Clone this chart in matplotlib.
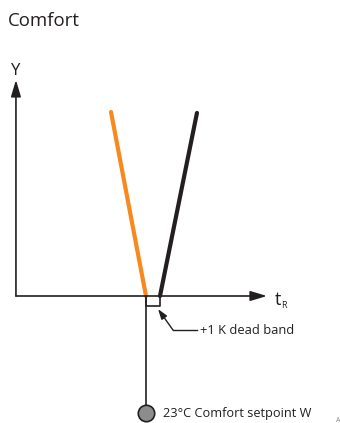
import matplotlib
matplotlib.use("Agg")
import matplotlib.pyplot as plt

# Schema: t in K relative to setpoint, Y in % (0..100)
heating_t = [-2.5, 0.0]
heating_y = [100, 0]
cooling_t = [1.0, 3.64]
cooling_y = [0, 99.5]
dead_band = [0.0, 1.0]
setpoint_label = "23°C Comfort setpoint W"
dead_band_label = "+1 K dead band"

INK = "#231f20"
ORANGE = "#f7891f"
plt.rcParams['font.family'] = ['Open Sans', 'DejaVu Sans']

# pixel -> data: 1 K = 14 px, 1 % = 1.84 px, origin at (146, 296)
fig = plt.figure(figsize=(3.4, 4.23), dpi=100)
ax = fig.add_axes([0, 0, 1, 1])
ax.set_xlim(-146 / 14, (340 - 146) / 14)
ax.set_ylim((296 - 423) / 1.84, 296 / 1.84)
ax.axis('off')

# achsen
ax.annotate('', xy=(8.64, 0), xytext=(-9.29, 0),
            arrowprops=dict(arrowstyle='-|>,head_length=1.0,head_width=0.3', color=INK, lw=1.2, shrinkA=0, shrinkB=0))
ax.annotate('', xy=(-9.29, 117.4), xytext=(-9.29, 0),
            arrowprops=dict(arrowstyle='-|>,head_length=1.0,head_width=0.3', color=INK, lw=1.2, shrinkA=0, shrinkB=0))
ax.text(-9.29, 120.1, 'Y', ha='center', va='baseline', fontsize=12, color=INK)
ax.text(9.21, -4.9, 't', ha='left', va='baseline', fontsize=13, color=INK)
ax.text(9.64, -6.5, 'R', ha='left', va='baseline', fontsize=6.5, color=INK)

# kennlinien
ax.plot(heating_t, heating_y, color=ORANGE, lw=3, solid_capstyle='round', zorder=2)
ax.plot(cooling_t, cooling_y, color=INK, lw=3, solid_capstyle='round', zorder=2)

# totzone + sollwert
ax.plot([dead_band[0], dead_band[0], dead_band[1], dead_band[1]], [0, -5.6, -5.6, 0], color=INK, lw=1.2)
ax.plot([0, 0], [0, -63.6], color=INK, lw=1.2, zorder=1)
ax.scatter([0], [-63.6], s=140, color='#8c8c8e', edgecolors=INK, linewidths=1.2, zorder=3)

ax.annotate('', xy=(0.86, -7.1), xytext=(1.93, -18.5),
            arrowprops=dict(arrowstyle='-|>,head_length=0.6,head_width=0.2', color=INK, lw=1.0, shrinkA=0, shrinkB=0))
ax.plot([1.93, 3.64], [-18.5, -18.5], color=INK, lw=1.0)
ax.text(3.86, -18.5, dead_band_label, ha='left', va='center', fontsize=9.3, color=INK)
ax.text(1.21, -63.6, setpoint_label, ha='left', va='center', fontsize=9.2, color=INK)
ax.text(13.57, -67.5, 'A', ha='left', va='center', fontsize=5, color='#888888')

fig.text(8 / 340, 1 - 26.5 / 423, 'Comfort', ha='left', va='baseline', fontsize=13.4, color=INK)

fig.savefig('out.png', dpi=100, facecolor='white')
